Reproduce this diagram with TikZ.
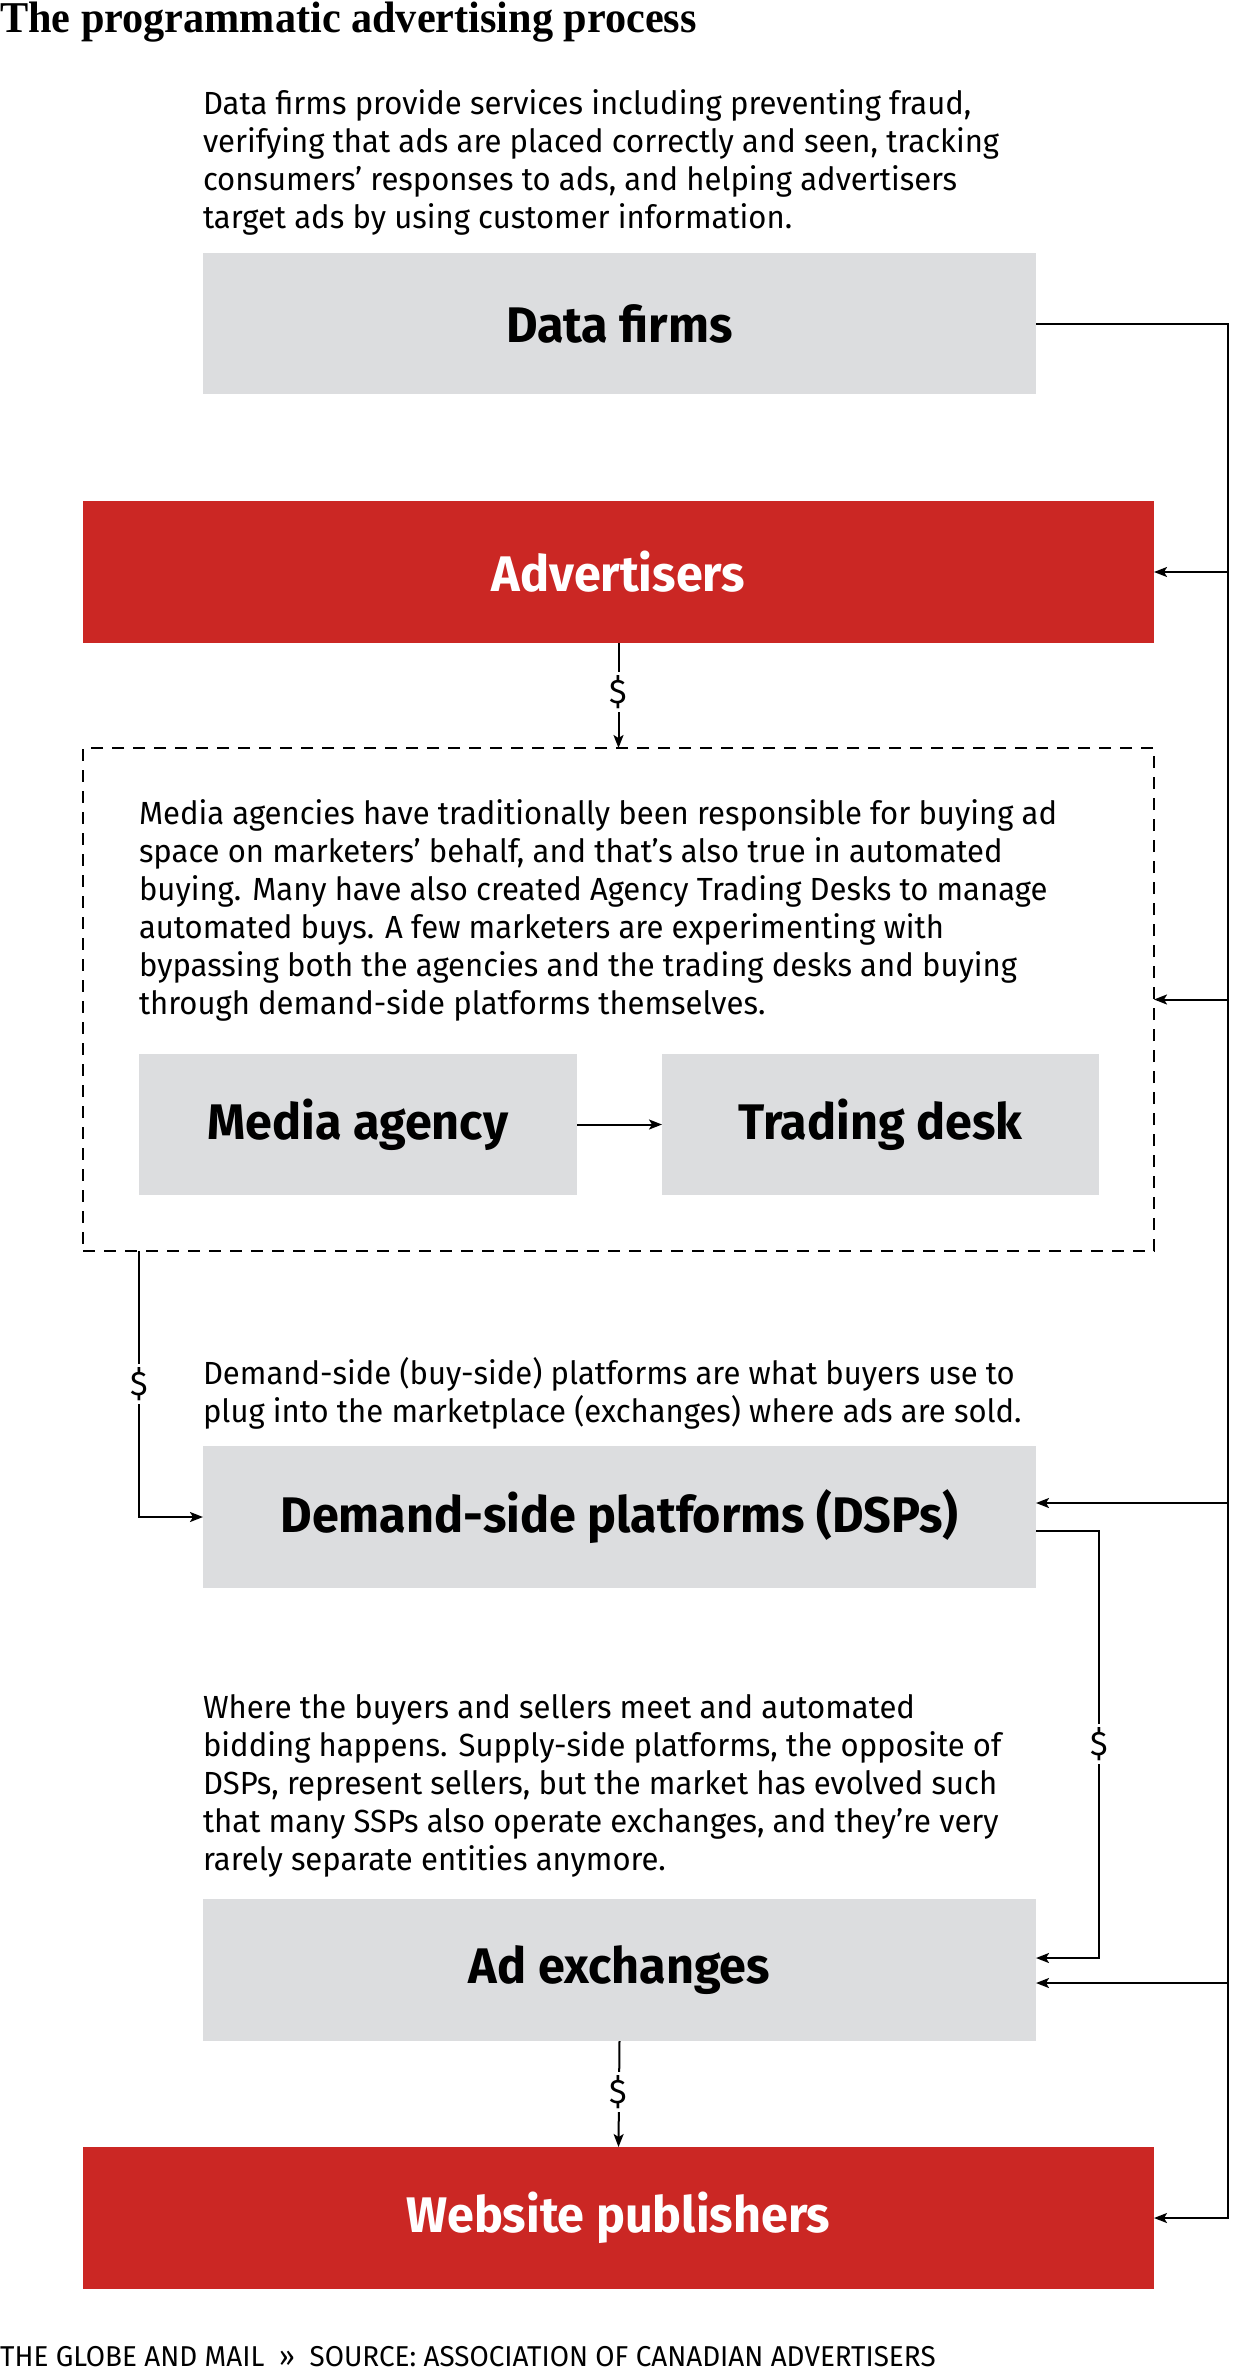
\documentclass[tikz,border=0pt]{standalone}
\usepackage{fontspec}
\setmainfont{Fira Sans}[FakeStretch=0.97]
\newfontfamily\titlefont{Liberation Serif}[FakeStretch=0.96]
\usetikzlibrary{arrows.meta}
\definecolor{boxgray}{HTML}{DCDDDF}
\definecolor{boxred}{HTML}{CB2724}
\tikzset{
  box/.style={inner sep=0pt, outer sep=0pt, font=\fontsize{50}{56}\selectfont\bfseries},
  graybox/.style={box, fill=boxgray, text=black},
  redbox/.style={box, fill=boxred, text=white},
  para/.style={inner sep=0pt, outer sep=0pt, anchor=north west, align=left, font=\fontsize{32}{38}\selectfont},
  conn/.style={line width=2pt, draw=black},
  arr/.style={conn, -{Stealth[length=13pt,width=10pt,inset=3pt]}},
  money/.style={fill=white, inner sep=3pt, font=\fontsize{34}{38}\selectfont},
  dashbox/.style={draw=black, line width=2pt, dash pattern=on 12pt off 9pt, inner sep=0pt, outer sep=0pt}
}
\begin{document}
\begin{tikzpicture}[x=1pt,y=-1pt]
\useasboundingbox (0,0) rectangle (1240,2373);
\fill[white] (0,0) rectangle (1240,2373);

\node[inner sep=0pt, anchor=base west, font=\fontsize{44}{48}\selectfont\titlefont\bfseries] (title) at (0,33) {The programmatic advertising process};

\node[para] (datatext) at (203,90) {Data firms provide services including preventing fraud,\\verifying that ads are placed correctly and seen, tracking\\consumers’ responses to ads, and helping advertisers\\target ads by using customer information.};
\node[graybox, minimum width=833pt, minimum height=141pt] (data) at (619.5,323.5) {Data firms};

\node[redbox, minimum width=1071pt, minimum height=142pt] (adv) at (618.5,572) {Advertisers};

\node[dashbox, minimum width=1071pt, minimum height=503pt] (mid) at (618.5,999.5) {};
\node[para] (midtext) at (139,800) {Media agencies have traditionally been responsible for buying ad\\space on marketers’ behalf, and that’s also true in automated\\buying. Many have also created Agency Trading Desks to manage\\automated buys. A few marketers are experimenting with\\bypassing both the agencies and the trading desks and buying\\through demand-side platforms themselves.};
\node[graybox, minimum width=438pt, minimum height=141pt] (media) at (358,1124.5) {Media agency};
\node[graybox, minimum width=437pt, minimum height=141pt] (trade) at (880.5,1124.5) {Trading desk};

\node[para] (dsptext) at (203,1357) {Demand-side (buy-side) platforms are what buyers use to\\plug into the marketplace (exchanges) where ads are sold.};
\node[graybox, minimum width=833pt, minimum height=142pt] (dsp) at (619.5,1517) {Demand-side platforms (DSPs)};

\node[para] (adxtext) at (203,1694) {Where the buyers and sellers meet and automated\\bidding happens. Supply-side platforms, the opposite of\\DSPs, represent sellers, but the market has evolved such\\that many SSPs also operate exchanges, and they’re very\\rarely separate entities anymore.};
\node[graybox, minimum width=833pt, minimum height=142pt] (adx) at (619.5,1970) {Ad exchanges};

\node[redbox, minimum width=1071pt, minimum height=142pt] (pub) at (618.5,2218) {Website publishers};

\node[inner sep=0pt, anchor=base west, font=\fontsize{28.7}{30}\selectfont] (footer) at (0,2366) {THE GLOBE AND MAIL \ » \ SOURCE: ASSOCIATION OF CANADIAN ADVERTISERS};

% bus
\coordinate (bus) at (1228,0);
\coordinate (dspin) at (1036,1503);
\coordinate (dspout) at (1036,1531);
\coordinate (loopx) at (1099,0);
\coordinate (adxin) at (1036,1958);
\coordinate (adxbus) at (1036,1983);
\coordinate (leftx) at (139,0);

\draw[arr] (data.east) -| (bus |- pub.east) -- (pub.east);
\draw[arr] (bus |- adv.east) -- (adv.east);
\draw[arr] (bus |- mid.east) -- (mid.east);
\draw[arr] (bus |- dspin) -- (dspin);
\draw[arr] (bus |- adxbus) -- (adxbus);

\draw[arr] (dspout) -| (loopx |- adxin) -- (adxin);
\node[money] (m3) at (1099,1744) {\$};

\draw[arr] (adv.south) -- (mid.north);
\node[money] (m1) at (618.5,692) {\$};

\draw[arr] (media.east) -- (trade.west);

\draw[arr] (leftx |- mid.south) |- (dsp.west);
\node[money] (m2) at (139,1384) {\$};

\draw[arr] (adx.south) -- (pub.north);
\node[money] (m4) at (618.5,2092) {\$};
\end{tikzpicture}
\end{document}
